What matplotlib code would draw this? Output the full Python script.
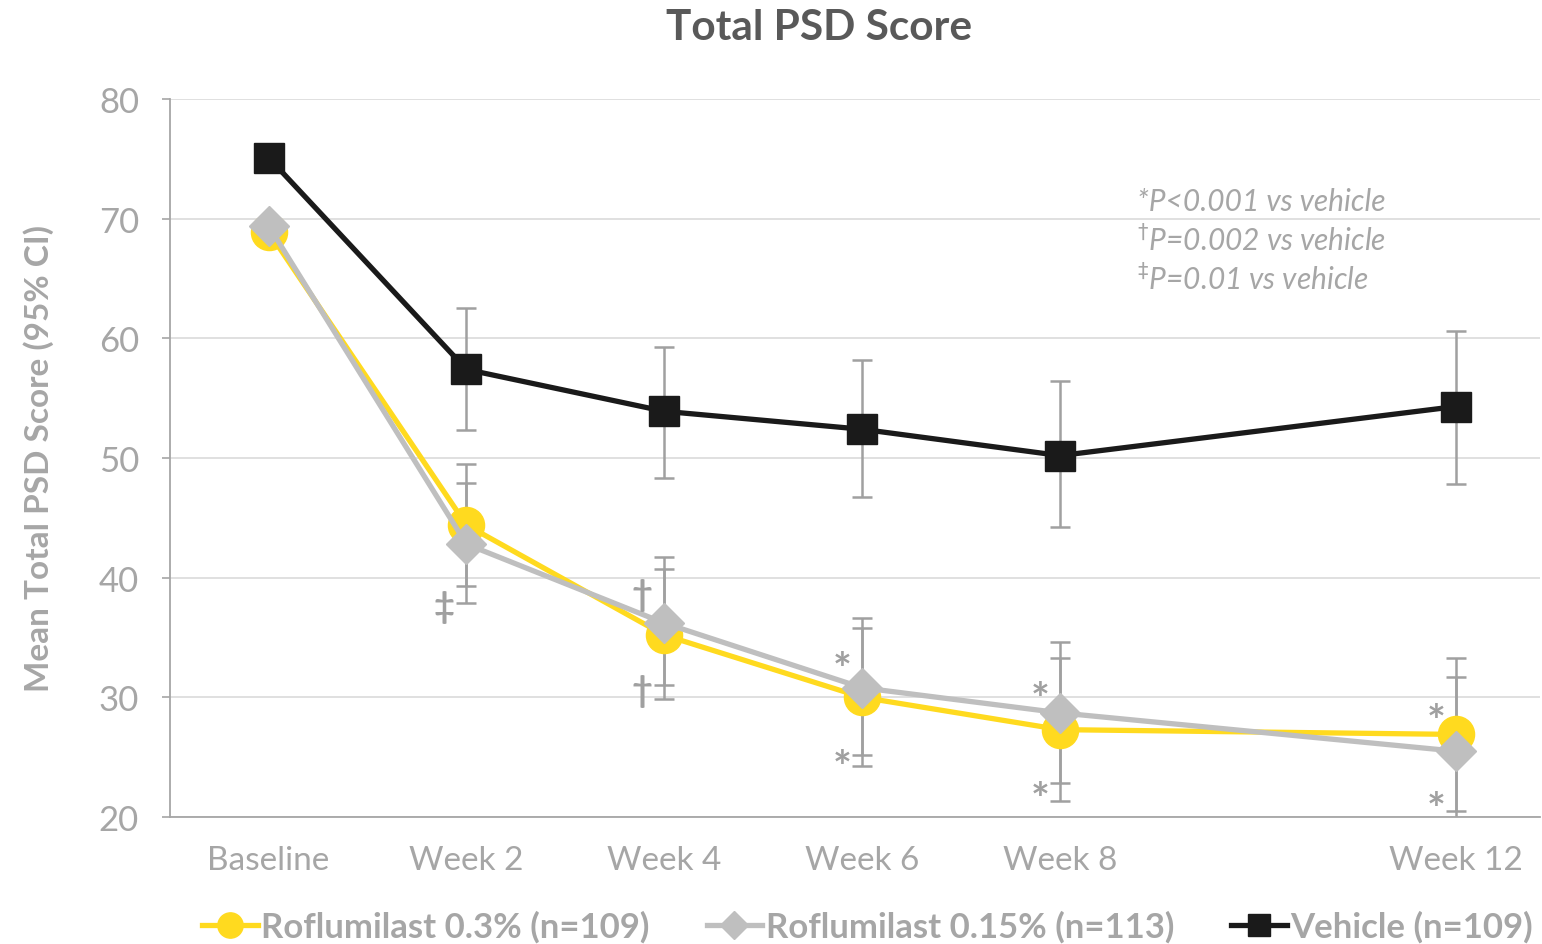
import matplotlib
matplotlib.use("Agg")
import matplotlib.pyplot as plt

plt.rcParams["font.family"] = ["Lato", "DejaVu Sans"]

# data
weeks = [0, 2, 4, 6, 8, 12]
week_labels = ["Baseline", "Week 2", "Week 4", "Week 6", "Week 8", "Week 12"]

rof03 = [68.9, 44.4, 35.2, 30.0, 27.3, 26.9]
rof03_lo = [None, 39.3, 29.9, 24.3, 21.3, 20.5]
rof03_hi = [None, 49.5, 40.7, 35.8, 33.3, 33.3]

rof015 = [69.4, 42.8, 36.2, 30.8, 28.7, 25.5]
rof015_lo = [None, 37.9, 31.0, 25.2, 22.8, 19.3]
rof015_hi = [None, 47.9, 41.7, 36.6, 34.6, 31.7]

vehicle = [75.1, 57.4, 53.9, 52.4, 50.2, 54.3]
vehicle_lo = [None, 52.3, 48.3, 46.7, 44.2, 47.8]
vehicle_hi = [None, 62.5, 59.3, 58.2, 56.4, 60.6]

# significance symbols: (week, y, symbol)
sig_marks = [(2, 37.6, "\u2021"),
             (4, 38.6, "\u2020"), (4, 30.6, "\u2020"),
             (6, 32.3, "*"), (6, 24.1, "*"),
             (8, 29.8, "*"), (8, 21.4, "*"),
             (12, 27.9, "*"), (12, 20.6, "*")]

footnotes = ["*P<0.001 vs vehicle", "$^{\u2020}$P=0.002 vs vehicle", "$^{\u2021}$P=0.01 vs vehicle"]

YELLOW = "#FFDA1F"
LGRAY = "#BFBFBF"
BLACK = "#1A1A1A"
EGRAY = "#A0A0A0"
TGRAY = "#A6A6A6"

fig = plt.figure(figsize=(15.42, 9.45), dpi=100)
ax = fig.add_axes([0.110, 0.1344, 0.8887, 0.7598])


def errs(mean, lo, hi):
    xs, ys, el, eh = [], [], [], []
    for w, m, l, h in zip(weeks, mean, lo, hi):
        if l is None:
            continue
        xs.append(w); ys.append(m); el.append(m - l); eh.append(h - m)
    return xs, ys, [el, eh]


for mean, lo, hi in [(vehicle, vehicle_lo, vehicle_hi), (rof03, rof03_lo, rof03_hi),
                     (rof015, rof015_lo, rof015_hi)]:
    xs, ys, yerr = errs(mean, lo, hi)
    ax.errorbar(xs, ys, yerr=yerr, fmt="none", ecolor=EGRAY, elinewidth=1.8,
                capsize=7, capthick=1.8, zorder=2, clip_on=True)

ax.plot(weeks, vehicle, color=BLACK, lw=3.8, marker="s", ms=22, mfc=BLACK,
        mec=BLACK, zorder=3, label="Vehicle (n=109)")
ax.plot(weeks, rof03, color=YELLOW, lw=3.8, marker="o", ms=26, mfc=YELLOW,
        mec=YELLOW, zorder=4, label="Roflumilast 0.3% (n=109)")
ax.plot(weeks, rof015, color=LGRAY, lw=3.8, marker="D", ms=20, mfc=LGRAY,
        mec=LGRAY, zorder=5, label="Roflumilast 0.15% (n=113)")

for w, y, s in sig_marks:
    if s == "*":
        size, dx = 32, 0.2
    else:
        size, dx = 26, 0.23
    ax.text(w - dx, y, s, ha="center", va="center", fontsize=size, color=EGRAY,
            fontweight="bold", zorder=6)

for i, t in enumerate(footnotes):
    ax.text(8.78, 71.5 - i * 3.25, t, fontsize=21.5, style="italic", color=TGRAY,
            ha="left", va="center")

ax.set_xlim(-1, 12.85)
ax.set_ylim(20, 80)
ax.set_yticks(range(20, 81, 10))
ax.set_xticks(weeks)
ax.set_xticklabels(week_labels)
ax.tick_params(axis="y", labelsize=25, colors=TGRAY, length=6, width=1.2, pad=16)
ax.tick_params(axis="x", labelsize=24, colors=TGRAY, length=0, pad=20)
ax.grid(axis="y", color="#DDDDDD", lw=1.3)
ax.set_axisbelow(True)
for side in ["top", "right"]:
    ax.spines[side].set_visible(False)
for side in ["left", "bottom"]:
    ax.spines[side].set_color(TGRAY)
    ax.spines[side].set_linewidth(1.3)

ax.set_ylabel("Mean Total PSD Score (95% CI)", fontsize=24, fontweight="bold",
              color=TGRAY, labelpad=32)
fig.suptitle("Total PSD Score", fontsize=30.5, fontweight="bold", color="#595959",
             x=0.531, y=0.99, va="top")

h, l = ax.get_legend_handles_labels()
order = [1, 2, 0]
leg = fig.legend([h[i] for i in order], [l[i] for i in order], loc="lower center",
                 ncol=3, frameon=False, bbox_to_anchor=(0.5626, -0.032),
                 prop={"size": 25, "weight": "bold"}, labelcolor=TGRAY,
                 handlelength=1.6, handletextpad=0.1, columnspacing=1.65,
                 markerscale=0.7)

fig.savefig("out.png", dpi=100)
